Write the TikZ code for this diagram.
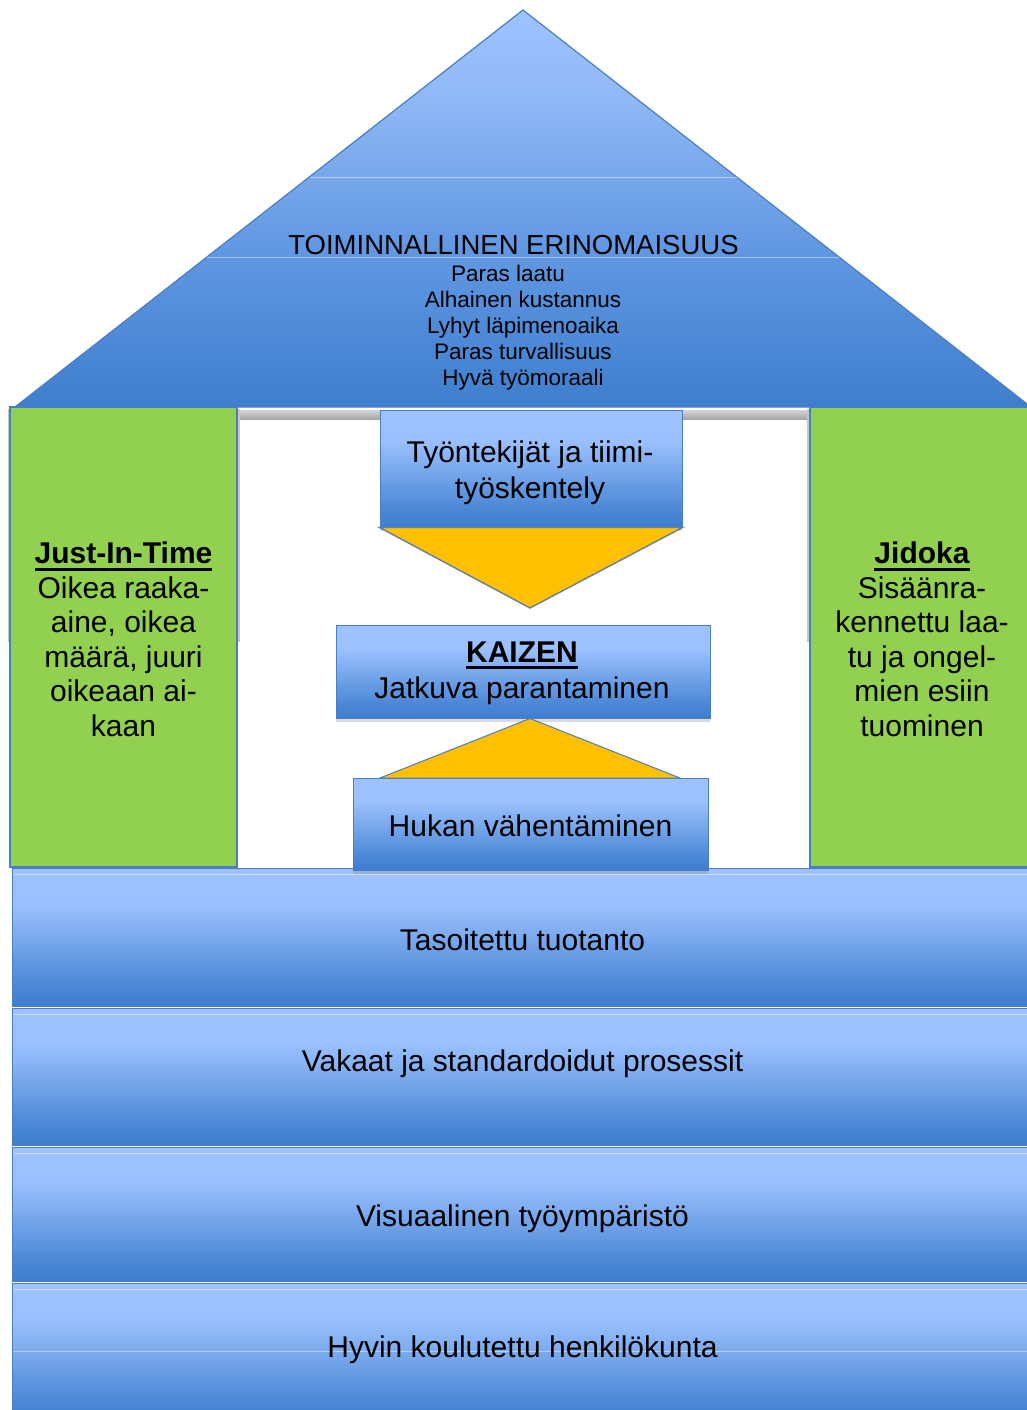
\documentclass[tikz,border=0pt]{standalone}
\usepackage{fontspec}
\setmainfont{Liberation Sans}
\usetikzlibrary{shadows}

\definecolor{skyTop}{HTML}{9DC2FF}
\definecolor{skyUp}{HTML}{92BAF7}
\definecolor{skyMid}{HTML}{6198E2}
\definecolor{skyLow}{HTML}{4C88D6}
\definecolor{skyBot}{HTML}{3E7ECE}
\definecolor{edgeBlue}{HTML}{4A7EC4}
\definecolor{leafGreen}{HTML}{92D050}
\definecolor{goldYellow}{HTML}{FFC000}
\definecolor{lintelLight}{HTML}{D6D6D6}
\definecolor{lintelDark}{HTML}{A6A6A6}

% roof gradient: dark at the eaves, light at the ridge
\pgfdeclareverticalshading{roofshade}{100bp}{color(0bp)=(skyBot); color(25bp)=(skyBot);
  color(45bp)=(skyMid); color(65bp)=(skyUp); color(75bp)=(skyTop); color(100bp)=(skyTop)}
% band gradient: light upper part, darkening towards the bottom edge
\pgfdeclareverticalshading{bandshade}{100bp}{color(0bp)=(skyBot); color(25bp)=(skyBot);
  color(33bp)=(skyLow); color(48bp)=(skyMid!60!skyUp); color(62bp)=(skyTop!80!skyUp); color(75bp)=(skyTop); color(100bp)=(skyTop)}

\newcommand{\heavyul}[2][-6.5pt]{\setbox0=\hbox{#2}\rlap{\rule[#1]{\wd0}{3pt}}\box0}

\tikzset{
  roof/.style={shading=roofshade, draw=edgeBlue, line width=1.2pt},
  band/.style={shading=bandshade, draw=edgeBlue, line width=1pt},
  sheen/.style={draw=white, opacity=0.45, line width=1pt},
  pillar/.style={fill=leafGreen, draw=edgeBlue, line width=1.2pt, inner sep=0pt},
  pillartext/.style={inner sep=0pt, align=center, font=\fontsize{30}{34.5}\selectfont},
  tier/.style={shading=bandshade, draw=edgeBlue, line width=1pt, inner sep=0pt,
    drop shadow={opacity=0.28, shadow xshift=0pt, shadow yshift=-4pt}},
  chevron/.style={fill=goldYellow, draw=edgeBlue!55!gray, line width=1.4pt, line join=miter},
  lintel/.style={top color=lintelLight, bottom color=lintelDark, draw=none},
  ghost/.style={draw=gray!45, line width=1.4pt},
  label/.style={inner sep=0pt, align=center, font=\fontsize{30}{36}\selectfont},
}

\begin{document}
\begin{tikzpicture}[x=1pt, y=-1pt]
\useasboundingbox (0,0) rectangle (1026,1410);
\fill[white] (0,0) rectangle (1026,1410);

% foundation bands
\path[band] (12,868) rectangle (1034,1006);
\path[band] (12,1008) rectangle (1034,1145);
\path[band] (12,1147) rectangle (1034,1281);
\path[band] (12,1283) rectangle (1034,1422);
\draw[sheen] (14,874) -- (1034,874);
\draw[sheen] (14,1014) -- (1034,1014);
\draw[sheen] (14,1153) -- (1034,1153);
\draw[sheen] (14,1289) -- (1034,1289);
\draw[sheen] (14,1351) -- (1034,1351);

\node[label] (level) at (522.5,940) {Tasoitettu tuotanto};
\node[label] (stable) at (522.5,1064) {Vakaat ja standardoidut prosessit};
\node[label] (visual) at (522.5,1219) {Visuaalinen työympäristö};
\node[label] (trained) at (522.5,1350) {Hyvin koulutettu henkilökunta};

% roof
\path[roof] (523,10) -- (1031,407) -- (15,407) -- cycle;
\draw[sheen] (310,177) -- (737,177);
\draw[sheen] (207,257) -- (839,257);

\node[inner sep=0pt, font=\fontsize{27.5}{32}\selectfont] (goal) at (513.5,245) {TOIMINNALLINEN ERINOMAISUUS};
\node[inner sep=0pt, align=center, font=\fontsize{22.5}{26}\selectfont] (aims) at (523,328)
  {Paras laatu\hspace*{30pt}\\ Alhainen kustannus\\ Lyhyt läpimenoaika\\ Paras turvallisuus\\ Hyvä työmoraali};

% lintels between the pillars and the centre column
\path[lintel] (238,410) rectangle (380,419);
\path[lintel] (682,410) rectangle (809,419);
\draw[ghost] (8.5,409) -- (8.5,642);
\draw[ghost] (239,409) -- (239,642);
\draw[ghost] (808,409) -- (808,642);

% pillars
\node[pillar, minimum width=227pt, minimum height=460pt] (jit) at (123.5,637) {};
\node[pillartext] (jittext) at (123.5,639.5)
  {\textbf{\heavyul[-7pt]{Just-In-Time}}\\ Oikea raaka-\\ aine, oikea\\ määrä, juuri\\ oikeaan ai-\\ kaan};
\node[pillar, minimum width=224pt, minimum height=460pt] (jidoka) at (922,637) {};
\node[pillartext] (jidokatext) at (922,639.5)
  {\textbf{\heavyul[-7pt]{Jidoka}}\\ Sisäänra-\\ kennettu laa-\\ tu ja ongel-\\ mien esiin\\ tuominen};

% centre column
\node[tier, minimum width=302pt, minimum height=117pt] (team) at (531,468.5) {};
\node[label] (teamtext) at (530,472.5) {Työntekijät ja tiimi-\\ työskentely};
\path[chevron] (team.south west) -- (team.south east) -- (530,608) -- cycle;

\node[tier, minimum width=374pt, minimum height=93pt] (kaizen) at (523,671.5) {};
\node[label] (kaizentext) at (522,673.5) {\textbf{\heavyul{KAIZEN}}\\ Jatkuva parantaminen};

\node[tier, minimum width=355pt, minimum height=92pt] (waste) at (530.5,824) {};
\node[label] (wastetext) at (530.5,825.5) {Hukan vähentäminen};
\path[chevron, draw=edgeBlue, line width=1pt] (380,778) -- (680,778) -- (kaizen.south -| 530,0) -- cycle;
\end{tikzpicture}
\end{document}
